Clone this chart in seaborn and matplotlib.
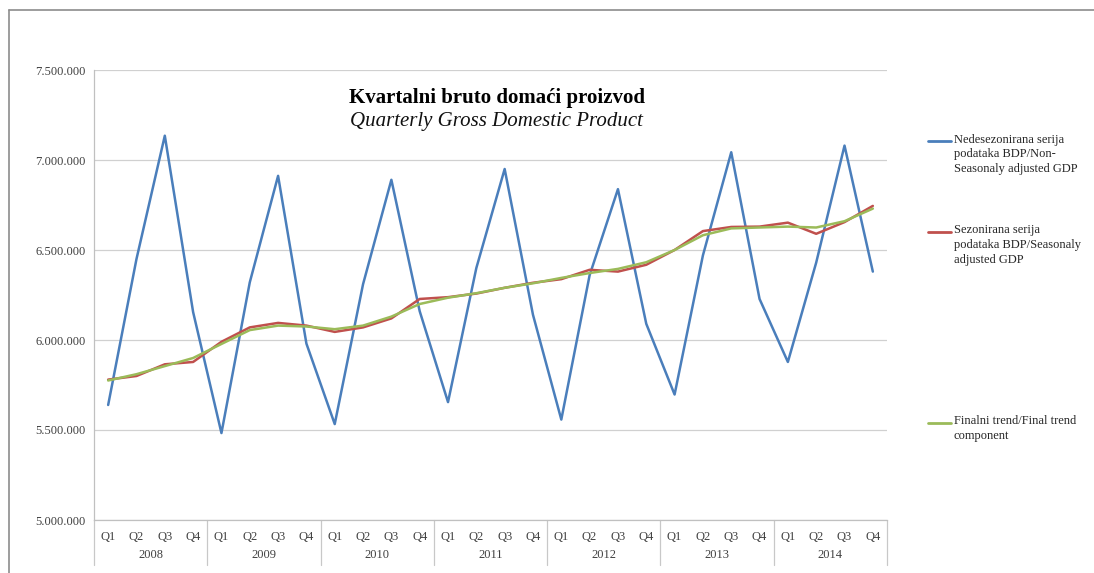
import numpy as np
import pandas as pd
import seaborn as sns
import matplotlib.pyplot as plt
from matplotlib.lines import Line2D
from matplotlib.ticker import FuncFormatter

years = ['2008', '2009', '2010', '2011', '2012', '2013', '2014']
quarters = ['Q1', 'Q2', 'Q3', 'Q4']

# values in thousands of kuna
non_sa = [5639000, 6450000, 7135000, 6155000,
          5483000, 6320000, 6912000, 5980000,
          5533000, 6310000, 6890000, 6160000,
          5655000, 6400000, 6950000, 6140000,
          5558000, 6360000, 6838000, 6090000,
          5697000, 6470000, 7043000, 6228000,
          5878000, 6430000, 7080000, 6380000]
sa = [5780000, 5800000, 5865000, 5878000,
      5990000, 6070000, 6095000, 6080000,
      6045000, 6070000, 6120000, 6228000,
      6238000, 6258000, 6290000, 6318000,
      6338000, 6390000, 6380000, 6418000,
      6500000, 6605000, 6628000, 6630000,
      6652000, 6590000, 6655000, 6745000]
trend = [5775000, 5810000, 5855000, 5900000,
         5978000, 6055000, 6080000, 6075000,
         6060000, 6080000, 6130000, 6200000,
         6235000, 6260000, 6290000, 6315000,
         6345000, 6372000, 6395000, 6432000,
         6500000, 6582000, 6620000, 6625000,
         6630000, 6625000, 6660000, 6730000]

labels = ['Nedesezonirana serija\npodataka BDP/Non-\nSeasonaly adjusted GDP',
          'Sezonirana serija\npodataka BDP/Seasonaly\nadjusted GDP',
          'Finalni trend/Final trend\ncomponent']
colors = ['#4a7ebb', '#c0504d', '#9bbb59']

n = len(years) * len(quarters)
df = pd.concat([
    pd.DataFrame({'idx': np.arange(n), 'value': vals, 'series': lab})
    for vals, lab in zip([non_sa, sa, trend], labels)
])

sns.set_style('white')
plt.rcParams['font.family'] = ['Liberation Serif', 'DejaVu Serif']

fig = plt.figure(figsize=(10.94, 5.73), dpi=100)
W, H = 1094, 573
ax = fig.add_axes([94 / W, 1 - 520 / H, (887 - 94) / W, 450 / H])

sns.lineplot(data=df, x='idx', y='value', hue='series', palette=colors,
             linewidth=1.8, legend=False, ax=ax, sort=False)

ax.set_xlim(-0.5, n - 0.5)
ax.set_ylim(5000000, 7500000)
ax.set_yticks(np.arange(5000000, 7500001, 500000))
ax.yaxis.set_major_formatter(FuncFormatter(lambda v, p: f'{v:,.0f}'.replace(',', '.')))
ax.set_xticks(range(n))
ax.set_xticklabels(quarters * len(years))
ax.tick_params(axis='both', length=0, labelsize=9, colors='#404040')
ax.tick_params(axis='x', pad=8)
ax.tick_params(axis='y', pad=6)
ax.set_xlabel('')
ax.set_ylabel('')
ax.grid(axis='y', color='#d0d0d0', linewidth=0.9)
ax.set_axisbelow(True)
for s in ['top', 'right']:
    ax.spines[s].set_visible(False)
for s in ['left', 'bottom']:
    ax.spines[s].set_color('#c0c0c0')
    ax.spines[s].set_linewidth(0.9)

# year labels and separators below the axis
tr = ax.get_xaxis_transform()
for i, yr in enumerate(years):
    ax.text(i * 4 + 1.5, -0.078, yr, transform=tr, ha='center', va='center',
            fontsize=9, color='#404040')
for i in range(len(years) + 1):
    ax.plot([i * 4 - 0.5, i * 4 - 0.5], [0, -0.1], transform=tr, color='#c8c8c8',
            linewidth=0.9, clip_on=False)

# title inside plot area
ax.text(0.508, 0.938, 'Kvartalni bruto domaći proizvod', transform=ax.transAxes,
        ha='center', va='center', fontsize=15, fontweight='bold', color='black')
ax.text(0.508, 0.885, 'Quarterly Gross Domestic Product', transform=ax.transAxes,
        ha='center', va='center', fontsize=15, fontstyle='italic', color='#111111')

# legend on the right
for lab, col, ypx in zip(labels, colors, [141, 232, 423]):
    fig.add_artist(Line2D([928 / W, 951 / W], [1 - ypx / H, 1 - ypx / H],
                          color=col, linewidth=2, transform=fig.transFigure))
    fig.text(954 / W, 1 - (ypx - 7.5) / H, lab, ha='left', va='top',
             fontsize=9, color='#262626', linespacing=1.32)

# chart frame (top and left edges)
fig.add_artist(Line2D([8.5 / W, 8.5 / W], [0, 1 - 10 / H], color='#8c8c8c',
                      linewidth=1.2, transform=fig.transFigure))
fig.add_artist(Line2D([8.5 / W, 1], [1 - 10 / H, 1 - 10 / H], color='#8c8c8c',
                      linewidth=1.2, transform=fig.transFigure))

fig.savefig('out.png', dpi=100)
